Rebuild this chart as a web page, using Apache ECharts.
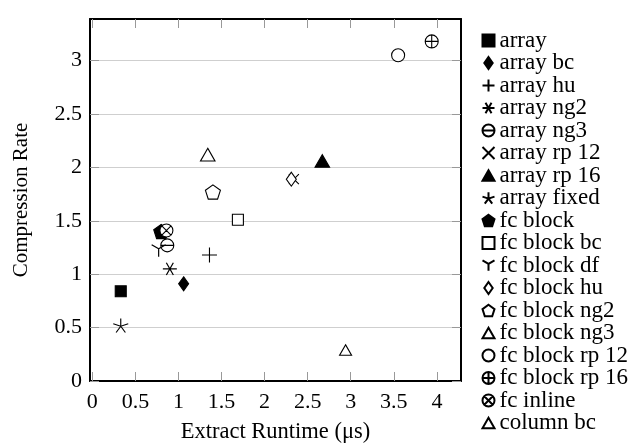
<!DOCTYPE html>
<html>
<head>
<meta charset="utf-8">
<script src="https://cdn.jsdelivr.net/npm/echarts@6/dist/echarts.min.js"></script>
<style>html,body{margin:0;padding:0;background:#fff}#c{width:633px;height:443px}</style>
</head>
<body>
<div id="c"></div>
<script>
const seriesNames = ['array','array bc','array hu','array ng2','array ng3','array rp 12','array rp 16','array fixed','fc block','fc block bc','fc block df','fc block hu','fc block ng2','fc block ng3','fc block rp 12','fc block rp 16','fc inline','column bc'];
const runtimeUs = [0.33, 1.06, 1.36, 0.90, 0.87, 2.34, 2.67, 0.33, 0.80, 1.69, 0.77, 2.31, 1.40, 1.34, 3.55, 3.94, 0.86, 2.94];
const compressionRate = [0.84, 0.91, 1.18, 1.05, 1.27, 1.89, 2.06, 0.52, 1.40, 1.51, 1.22, 1.89, 1.77, 2.12, 3.05, 3.18, 1.41, 0.29];
const xTicks = [0, 0.5, 1, 1.5, 2, 2.5, 3, 3.5, 4];
const yTicks = [0, 0.5, 1, 1.5, 2, 2.5, 3];

const circ = 'M-1,0 A1,1 0 1,1 1,0 A1,1 0 1,1 -1,0 Z';
const pent = 'M0,-1 L0.951,-0.309 L0.588,0.809 L-0.588,0.809 L-0.951,-0.309 Z';
const tri = 'M0,-1 L0.866,0.5 L-0.866,0.5 Z';
const dia = 'M0,-1 L0.7,0 L0,1 L-0.7,0 Z';
const marks = [
  {s:'rect', z:11, f:'#000'},
  {s:'path://'+dia, z:[10,14], f:'#000'},
  {s:'path://M0,-1 L0,1 M-1,0 L1,0', z:15, f:'none'},
  {s:'path://M-1,0 L1,0 M-0.5,-0.866 L0.5,0.866 M-0.5,0.866 L0.5,-0.866', z:[14,12.1], f:'none'},
  {s:'path://'+circ+' M-1,0 L1,0', z:13, f:'#fff'},
  {s:'path://M-1,-1 L1,1 M-1,1 L1,-1', z:10, f:'none'},
  {s:'path://'+tri, z:[14.5,12.6], f:'#000'},
  {s:'path://M0,0 L0,-1 M0,0 L-0.951,-0.309 M0,0 L-0.588,0.809 M0,0 L0.588,0.809 M0,0 L0.951,-0.309', z:[15,14], f:'none'},
  {s:'path://'+pent, z:[15,14.3], f:'#000'},
  {s:'rect', z:11, f:'#fff'},
  {s:'path://M0,0 L0,1 M0,0 L-0.866,-0.5 M0,0 L0.866,-0.5', z:[14,12], f:'none'},
  {s:'path://'+dia, z:[10,14], f:'#fff'},
  {s:'path://'+pent, z:[15,14.3], f:'#fff'},
  {s:'path://'+tri, z:[14.5,12.6], f:'#fff'},
  {s:'circle', z:13, f:'#fff'},
  {s:'path://'+circ+' M-1,0 L1,0 M0,-1 L0,1', z:13, f:'#fff'},
  {s:'path://'+circ+' M-0.707,-0.707 L0.707,0.707 M-0.707,0.707 L0.707,-0.707', z:13, f:'#fff'},
  {s:'path://'+tri, z:[12,10.4], f:'#fff'}
];

const font = 'Liberation Serif';
const series = seriesNames.map((n, i) => ({
  name: n,
  type: 'scatter',
  data: [[runtimeUs[i], compressionRate[i]]],
  symbol: marks[i].s,
  symbolSize: marks[i].z,
  symbolKeepAspect: false,
  itemStyle: {color: marks[i].f, borderColor: '#000', borderWidth: 1.1, opacity: 1},
  emphasis: {disabled: true},
  z: 3 + i * 0.01
}));

const chart = echarts.init(document.getElementById('c'), null, {renderer: 'canvas'});
const tickStyle = {inside: true, length: 9, lineStyle: {color: '#999', width: 1}};
chart.setOption({
  animation: false,
  backgroundColor: '#fff',
  textStyle: {fontFamily: font},
  grid: {left: 90, top: 19, right: 172, bottom: 62, containLabel: false, outerBoundsMode: 'none'},
  legend: {
    orient: 'vertical', left: 480, top: 29, padding: 0,
    itemWidth: 12, itemHeight: 12, itemGap: -0.5,
    textStyle: {fontFamily: font, fontSize: 23, lineHeight: 21.6, color: '#000'},
    data: seriesNames,
    selectedMode: false
  },
  xAxis: [{
    type: 'value', min: -0.027, max: 4.28, position: 'bottom',
    name: 'Extract Runtime (μs)', nameLocation: 'middle', nameGap: 40,
    nameTextStyle: {fontFamily: font, fontSize: 22.5, color: '#000'},
    axisLine: {show: true, onZero: false, lineStyle: {color: '#000', width: 2}},
    axisTick: Object.assign({customValues: xTicks}, tickStyle),
    axisLabel: {customValues: xTicks, fontFamily: font, fontSize: 22, color: '#000', margin: 10},
    splitLine: {show: false}
  }, {
    type: 'value', min: -0.027, max: 4.28, position: 'top',
    axisLine: {show: true, onZero: false, lineStyle: {color: '#000', width: 2}},
    axisTick: Object.assign({customValues: xTicks}, tickStyle),
    axisLabel: {show: false},
    splitLine: {show: false}
  }],
  yAxis: [{
    type: 'value', min: 0, max: 3.39, position: 'left',
    name: 'Compression Rate', nameLocation: 'middle', nameGap: 58, nameRotate: 90,
    nameTextStyle: {fontFamily: font, fontSize: 21, color: '#000'},
    axisLine: {show: true, onZero: false, lineStyle: {color: '#000', width: 2}},
    axisTick: Object.assign({customValues: yTicks}, tickStyle),
    axisLabel: {customValues: yTicks, fontFamily: font, fontSize: 22, color: '#000', margin: 8},
    splitLine: {show: true, lineStyle: {color: '#cfcfcf', width: 1}},
    interval: 0.5
  }, {
    type: 'value', min: 0, max: 3.39, position: 'right',
    axisLine: {show: true, onZero: false, lineStyle: {color: '#000', width: 2}},
    axisTick: Object.assign({customValues: yTicks}, tickStyle),
    axisLabel: {show: false},
    splitLine: {show: false},
    interval: 0.5
  }],
  series: series
});
</script>
</body>
</html>
